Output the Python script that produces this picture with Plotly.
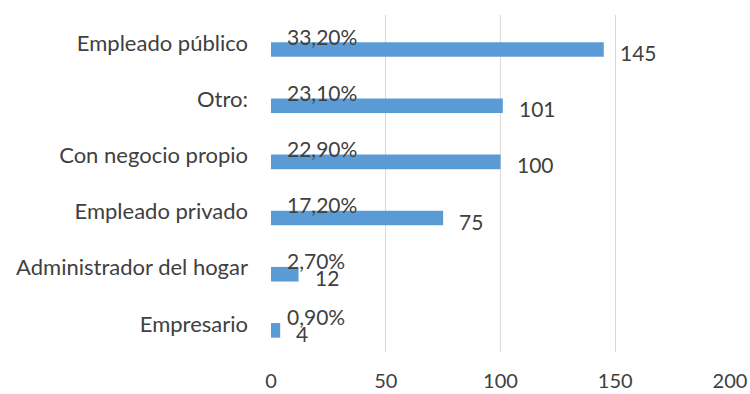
import plotly.graph_objects as go

# Ocupación de los encuestados (de abajo hacia arriba)
categories = ["Empresario", "Administrador del hogar", "Empleado privado",
              "Con negocio propio", "Otro:", "Empleado público"]
counts = [4, 12, 75, 100, 101, 145]
percent_labels = ["0,90%", "2,70%", "17,20%", "22,90%", "23,10%", "33,20%"]
x_ticks = [0, 50, 100, 150, 200]

FONT = "Lato"
TEXT = "#404040"
BAR = "#5b9bd5"

pos = list(range(len(categories)))
bar_offset = 0.115  # bars sit slightly below the category centre
bar_pos = [p - bar_offset for p in pos]

fig = go.Figure()
fig.add_trace(go.Bar(
    x=counts, y=bar_pos, orientation="h",
    width=0.26, marker=dict(color=BAR, line=dict(width=0)),
    hoverinfo="x+y",
))

annotations = []
for p, c, pct in zip(pos, counts, percent_labels):
    # percentage above the bar
    annotations.append(dict(
        x=0, y=p, xref="x", yref="y", text=pct, showarrow=False,
        xanchor="left", yanchor="middle", xshift=14, yshift=7,
        font=dict(family=FONT, size=21, color=TEXT),
    ))
    # count to the right of the bar end
    annotations.append(dict(
        x=c, y=p - bar_offset, xref="x", yref="y", text=str(c), showarrow=False,
        xanchor="left", yanchor="middle", xshift=14, yshift=-3,
        font=dict(family=FONT, size=21, color=TEXT),
    ))

fig.update_layout(
    width=750, height=394,
    margin=dict(l=271, r=20, t=15, b=42),
    paper_bgcolor="white", plot_bgcolor="white",
    showlegend=False,
    annotations=annotations,
    font=dict(family=FONT, size=21, color=TEXT),
    xaxis=dict(
        range=[0, 200], tickvals=x_ticks, ticktext=[str(v) for v in x_ticks],
        showgrid=True, gridcolor="#d9d9d9", gridwidth=1.3,
        zeroline=False, showline=False, ticks="",
        tickfont=dict(family=FONT, size=20, color=TEXT),
        ticklabelstandoff=15, automargin=False,
    ),
    yaxis=dict(
        range=[-0.5, 5.5], tickvals=pos, ticktext=categories,
        showgrid=False, zeroline=False, showline=False, ticks="",
        tickfont=dict(family=FONT, size=22, color=TEXT),
        ticklabelstandoff=22, automargin=False,
    ),
)

fig.write_html("out.html")
